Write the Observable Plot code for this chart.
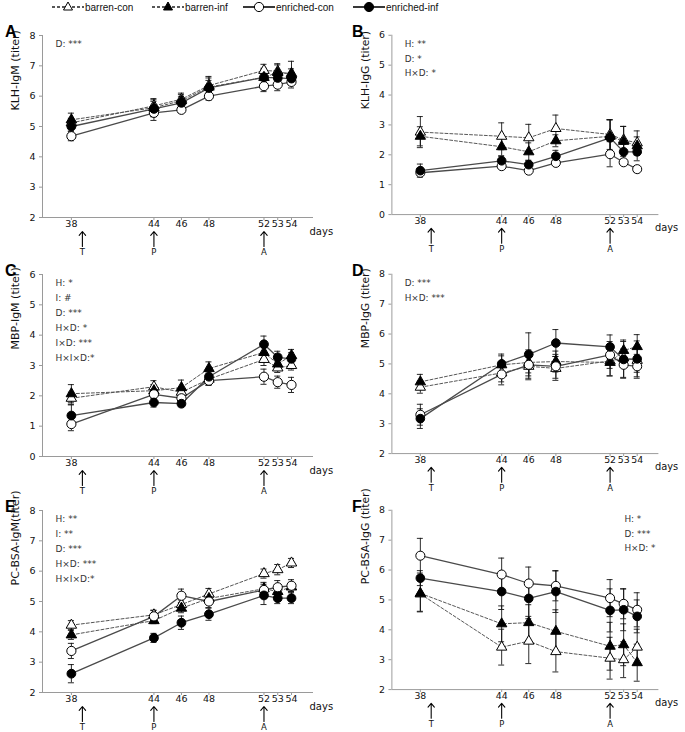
<!DOCTYPE html>
<html><head><meta charset="utf-8">
<script src="https://cdn.jsdelivr.net/npm/d3@7"></script>
<script src="https://cdn.jsdelivr.net/npm/@observablehq/plot@0.6"></script>
<style>
body{margin:0;background:#fff;}
#wrap{position:relative;width:685px;height:732px;overflow:hidden;background:#fff;}
.panel{position:absolute;}
.letter{position:absolute;font:bold 16px "Liberation Sans",Arial,sans-serif;color:#000;line-height:16px;}
.leg{position:absolute;top:0;height:14px;display:flex;align-items:center;font:10px "Liberation Sans",Arial,sans-serif;color:#111;white-space:nowrap;}
.leg svg{margin-right:1px;}
</style></head><body><div id="wrap"></div>
<script>
// ---------------- data ----------------
const days = [38, 44, 46, 48, 52, 53, 54];
const groups = ["barren-con", "barren-inf", "enriched-con", "enriched-inf"];
const eventLabels = ["T", "P", "A"];
const eventDays = [38.8, 44, 52];
const panelLetters = ["A", "B", "C", "D", "E", "F"];
const yLabels = ["KLH-IgM (titer)", "KLH-IgG (titer)", "MBP-IgM (titer)", "MBP-IgG (titer)", "PC-BSA-IgM(titer)", "PC-BSA-IgG (titer)"];
const yDomains = [[2, 8], [0, 6], [0, 6], [2, 8], [2, 8], [2, 8]];
const statsA = ["D: ***"];
const statsB = ["H: **", "D: *", "H×D: *"];
const statsC = ["H: *", "I: #", "D: ***", "H×D: *", "I×D: ***", "H×I×D:*"];
const statsD = ["D: ***", "H×D: ***"];
const statsE = ["H: **", "I: **", "D: ***", "H×D: ***", "H×I×D:*"];
const statsF = ["H: *", "D: ***", "H×D: *"];

// Panel A: KLH-IgM
const A_bc = [5.12, 5.68, 5.9, 6.35, 6.85, 6.82, 6.7];
const A_bi = [5.22, 5.62, 5.85, 6.3, 6.62, 6.78, 6.75];
const A_ec = [4.68, 5.45, 5.55, 6.0, 6.33, 6.38, 6.47];
const A_ei = [5.0, 5.58, 5.78, 6.27, 6.62, 6.6, 6.58];
const A_bc_e = [0.15, 0.2, 0.2, 0.3, 0.2, 0.25, 0.2];
const A_bi_e = [0.22, 0.3, 0.2, 0.3, 0.3, 0.25, 0.4];
const A_ec_e = [0.15, 0.25, 0.1, 0.13, 0.18, 0.2, 0.2];
const A_ei_e = [0.15, 0.25, 0.2, 0.25, 0.25, 0.25, 0.2];
// Panel B: KLH-IgG
const B_bc = [2.76, 2.62, 2.57, 2.88, 2.68, 2.5, 2.4];
const B_bi = [2.62, 2.27, 2.1, 2.47, 2.62, 2.45, 2.3];
const B_ec = [1.4, 1.62, 1.47, 1.73, 2.02, 1.75, 1.52];
const B_ei = [1.47, 1.8, 1.67, 1.95, 2.57, 2.1, 2.1];
const B_bc_e = [0.52, 0.45, 0.45, 0.45, 0.5, 0.45, 0.4];
const B_bi_e = [0.32, 0.3, 0.3, 0.2, 0.55, 0.5, 0.3];
const B_ec_e = [0.1, 0.08, 0.08, 0.08, 0.42, 0.1, 0.1];
const B_ei_e = [0.22, 0.15, 0.15, 0.2, 0.6, 0.25, 0.3];
// Panel C: MBP-IgM
const C_bc = [1.92, 2.3, 2.12, 2.55, 3.2, 2.92, 3.0];
const C_bi = [2.07, 2.17, 2.27, 2.9, 3.43, 3.05, 3.33];
const C_ec = [1.07, 2.05, 1.92, 2.5, 2.63, 2.45, 2.36];
const C_ei = [1.35, 1.78, 1.74, 2.63, 3.7, 3.27, 3.22];
const C_bc_e = [0.2, 0.2, 0.15, 0.2, 0.2, 0.15, 0.15];
const C_bi_e = [0.3, 0.2, 0.25, 0.22, 0.2, 0.2, 0.2];
const C_ec_e = [0.22, 0.15, 0.15, 0.15, 0.25, 0.2, 0.25];
const C_ei_e = [0.35, 0.15, 0.1, 0.2, 0.27, 0.2, 0.2];
// Panel D: MBP-IgG
const D_bc = [4.22, 4.7, 4.92, 4.85, 5.1, 5.2, 5.12];
const D_bi = [4.4, 4.97, 5.05, 5.08, 5.05, 5.45, 5.58];
const D_ec = [3.3, 4.65, 4.97, 4.92, 5.3, 4.97, 4.92];
const D_ei = [3.17, 5.0, 5.32, 5.7, 5.57, 5.15, 5.17];
const D_bc_e = [0.2, 0.3, 0.4, 0.4, 0.5, 0.3, 0.4];
const D_bi_e = [0.25, 0.3, 0.35, 0.35, 0.45, 0.35, 0.4];
const D_ec_e = [0.35, 0.35, 0.5, 0.4, 0.45, 0.45, 0.4];
const D_ei_e = [0.33, 0.33, 0.72, 0.45, 0.4, 0.6, 0.6];
// Panel E: PC-BSA-IgM
const E_bc = [4.22, 4.56, 4.9, 5.25, 5.92, 6.05, 6.27];
const E_bi = [3.9, 4.37, 4.78, 5.1, 5.42, 5.33, 5.48];
const E_ec = [3.37, 4.51, 5.19, 5.0, 5.38, 5.47, 5.52];
const E_ei = [2.62, 3.8, 4.3, 4.58, 5.2, 5.11, 5.11];
const E_bc_e = [0.15, 0.15, 0.15, 0.18, 0.15, 0.17, 0.15];
const E_bi_e = [0.15, 0.1, 0.15, 0.15, 0.15, 0.15, 0.15];
const E_ec_e = [0.25, 0.2, 0.22, 0.2, 0.25, 0.22, 0.2];
const E_ei_e = [0.3, 0.15, 0.22, 0.2, 0.3, 0.18, 0.18];
// Panel F: PC-BSA-IgG
const F_bc = [5.2, 3.42, 3.62, 3.27, 3.05, 3.0, 3.42];
const F_bi = [5.22, 4.2, 4.24, 3.95, 3.45, 3.5, 2.9];
const F_ec = [6.48, 5.85, 5.55, 5.47, 5.06, 4.87, 4.67];
const F_ei = [5.73, 5.28, 5.05, 5.28, 4.65, 4.67, 4.45];
const F_bc_e = [0.6, 0.6, 0.75, 0.68, 0.7, 0.6, 0.6];
const F_bi_e = [0.6, 0.6, 0.6, 0.72, 0.8, 0.7, 0.62];
const F_ec_e = [0.58, 0.55, 0.55, 0.5, 0.62, 0.5, 0.57];
const F_ei_e = [0.25, 0.6, 0.6, 0.7, 0.72, 0.7, 0.55];

const means = [
  [A_bc, A_bi, A_ec, A_ei], [B_bc, B_bi, B_ec, B_ei], [C_bc, C_bi, C_ec, C_ei],
  [D_bc, D_bi, D_ec, D_ei], [E_bc, E_bi, E_ec, E_ei], [F_bc, F_bi, F_ec, F_ei]
];
const errs = [
  [A_bc_e, A_bi_e, A_ec_e, A_ei_e], [B_bc_e, B_bi_e, B_ec_e, B_ei_e], [C_bc_e, C_bi_e, C_ec_e, C_ei_e],
  [D_bc_e, D_bi_e, D_ec_e, D_ei_e], [E_bc_e, E_bi_e, E_ec_e, E_ei_e], [F_bc_e, F_bi_e, F_ec_e, F_ei_e]
];
const stats = [statsA, statsB, statsC, statsD, statsE, statsF];

// ---------------- layout ----------------
const wrap = document.getElementById("wrap");
const W = 340, H = 237, ML = 42, MR = 27, MT = 15, MB = 40;
const xDomain = [35.9, 55.6];
const colLeft = [0, 350];
const rowTop = [20, 259, 495];
const FONT = "DejaVu Sans, Verdana, sans-serif";
const groupStyle = {
  "barren-con": {symbol: "triangle", fill: "white", r: 3.9, dashed: true},
  "barren-inf": {symbol: "triangle", fill: "black", r: 3.9, dashed: true},
  "enriched-con": {symbol: "circle", fill: "white", r: 4.6, dashed: false},
  "enriched-inf": {symbol: "circle", fill: "black", r: 4.4, dashed: false}
};

// legend
const legendX = [52, 152, 243, 353];
groups.forEach((g, i) => {
  const s = groupStyle[g];
  const div = document.createElement("div");
  div.className = "leg";
  div.style.left = legendX[i] + "px";
  const line = `<line x1="0" x2="32" y1="7" y2="7" stroke="#222" stroke-width="${s.dashed ? 1.3 : 1.8}" ${s.dashed ? 'stroke-dasharray="3,2"' : ''}/>`;
  const sym = s.symbol === "triangle"
    ? `<path d="M16,2 L20.5,10 L11.5,10 Z" fill="${s.fill}" stroke="#000" stroke-width="1"/>`
    : `<circle cx="16" cy="7" r="4.6" fill="${s.fill}" stroke="#000" stroke-width="1"/>`;
  div.innerHTML = `<svg width="32" height="14">${line}${sym}</svg><span>${g}</span>`;
  wrap.appendChild(div);
});

function makePanel(i) {
  const [y0, y1] = yDomains[i];
  const rows = [];
  groups.forEach((g, gi) => means[i][gi].forEach((v, k) => rows.push({group: g, day: days[k], v, e: errs[i][gi][k]})));
  const pxPerUnit = (H - MT - MB) / (y1 - y0);
  const ev = eventLabels.map((label, k) => ({label, day: eventDays[k]}));
  const right = i === 5;
  const marks = [
    Plot.ruleX([xDomain[0]], {stroke: "#9a9a9a"}),
    Plot.ruleY([y0], {stroke: "#9a9a9a"}),
    Plot.axisY({ticks: d3.range(y0, y1 + 1), tickFormat: d3.format("d"), tickSize: 3, tickPadding: 4,
      stroke: "#9a9a9a", fill: "#111", fontSize: 9.5, fontFamily: FONT, label: null}),
    Plot.axisX({ticks: days, tickFormat: d3.format("d"), tickSize: 3, tickPadding: 0,
      stroke: "#9a9a9a", fill: "#111", fontSize: 9.5, fontFamily: FONT, label: null}),
    // error bars
    Plot.ruleX(rows, {x: "day", y1: d => d.v - d.e, y2: d => d.v + d.e, stroke: "#111", strokeWidth: 0.9}),
    Plot.ruleY(rows, {x1: d => d.day - 0.22, x2: d => d.day + 0.22, y: d => d.v + d.e, stroke: "#111", strokeWidth: 0.9}),
    Plot.ruleY(rows, {x1: d => d.day - 0.22, x2: d => d.day + 0.22, y: d => d.v - d.e, stroke: "#111", strokeWidth: 0.9}),
    // lines
    Plot.line(rows.filter(d => groupStyle[d.group].dashed), {x: "day", y: "v", z: "group", stroke: "#555", strokeWidth: 1, strokeDasharray: "3,2"}),
    Plot.line(rows.filter(d => !groupStyle[d.group].dashed), {x: "day", y: "v", z: "group", stroke: "#4a4a4a", strokeWidth: 1.3}),
    // markers
    ...groups.map(g => Plot.dot(rows.filter(d => d.group === g), {x: "day", y: "v",
      symbol: groupStyle[g].symbol, r: groupStyle[g].r, fill: groupStyle[g].fill, stroke: "#000", strokeWidth: 1})),
    // treatment arrows
    Plot.arrow(ev, {x1: "day", x2: "day", y1: () => y0 - 29 / pxPerUnit, y2: () => y0 - 14 / pxPerUnit,
      stroke: "#000", strokeWidth: 1.1, headLength: 9, headAngle: 80}),
    Plot.text(ev, {x: "day", y: () => y0 - 35 / pxPerUnit, text: "label", fontSize: 8.5, fontFamily: FONT, fill: "#111"}),
    Plot.text(["days"], {frameAnchor: "bottom-right", textAnchor: "start", dx: -4, dy: 17, fontSize: 10, fontFamily: FONT, fill: "#111"}),
    Plot.text([yLabels[i]], {frameAnchor: "left", rotate: -90, dx: -27, dy: -16, fontSize: 11, fontFamily: FONT, fill: "#111"}),
    Plot.text([stats[i].join("\n")], {frameAnchor: right ? "top-right" : "top-left", textAnchor: "start", lineAnchor: "top",
      dx: right ? -35 : 13, dy: 1, fontSize: 9, lineHeight: 15 / 9, fontFamily: FONT, fill: "#333"})
  ];
  return Plot.plot({
    width: W, height: H, marginLeft: ML, marginRight: MR, marginTop: MT, marginBottom: MB,
    x: {domain: xDomain}, y: {domain: [y0, y1]},
    style: {background: "transparent", overflow: "visible", fontFamily: FONT, color: "#111"},
    marks
  });
}

for (let i = 0; i < 6; i++) {
  const col = i % 2, row = Math.floor(i / 2);
  const holder = document.createElement("div");
  holder.className = "panel";
  holder.style.left = colLeft[col] + "px";
  holder.style.top = rowTop[row] + "px";
  holder.appendChild(makePanel(i));
  wrap.appendChild(holder);
  const letter = document.createElement("div");
  letter.className = "letter";
  letter.textContent = panelLetters[i];
  letter.style.left = (colLeft[col] + (col ? 2 : 5)) + "px";
  letter.style.top = (rowTop[row] + 4) + "px";
  wrap.appendChild(letter);
}
</script></body></html>
